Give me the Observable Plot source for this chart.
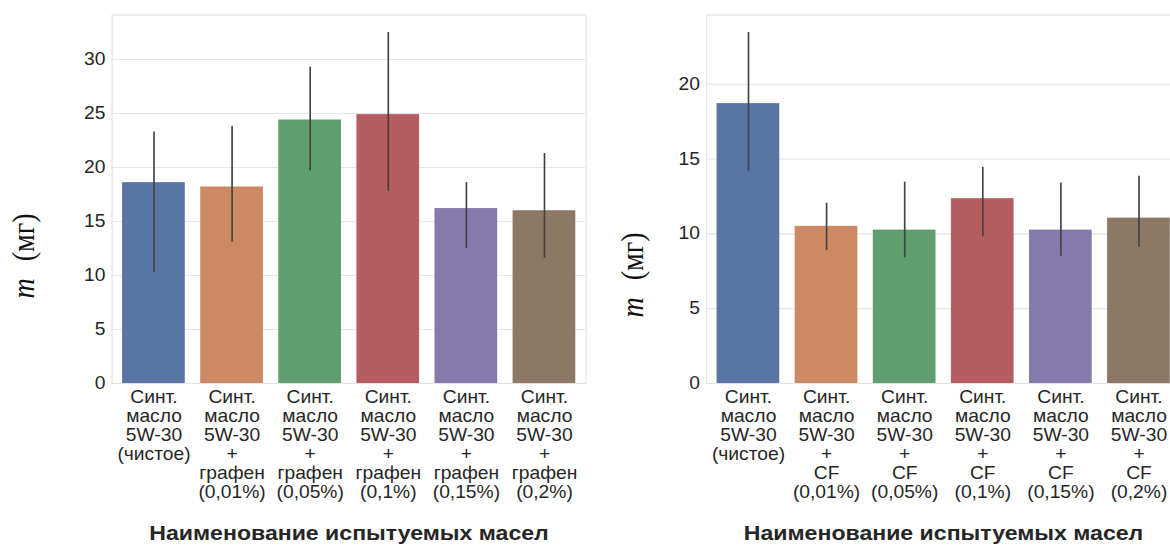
<!DOCTYPE html>
<html>
<head>
<meta charset="utf-8">
<script src="https://cdn.jsdelivr.net/npm/d3@7"></script>
<script src="https://cdn.jsdelivr.net/npm/@observablehq/plot@0.6"></script>
<style>
  html, body { margin: 0; padding: 0; background: #fff; }
  #fig { position: relative; width: 1170px; height: 545px; overflow: hidden; background: #fff; }
  #fig svg { position: absolute; top: 0; }
</style>
</head>
<body>
<div id="fig"></div>
<script>
// Oils tested: synthetic 5W-30 base and with graphene additive
const grapheneLabels = [
  "Синт.\nмасло\n5W-30\n(чистое)",
  "Синт.\nмасло\n5W-30\n+\nграфен\n(0,01%)",
  "Синт.\nмасло\n5W-30\n+\nграфен\n(0,05%)",
  "Синт.\nмасло\n5W-30\n+\nграфен\n(0,1%)",
  "Синт.\nмасло\n5W-30\n+\nграфен\n(0,15%)",
  "Синт.\nмасло\n5W-30\n+\nграфен\n(0,2%)"
];
const grapheneMeans = [18.6, 18.2, 24.4, 24.9, 16.2, 16.0];
const grapheneLow   = [10.3, 13.1, 19.7, 17.8, 12.5, 11.6];
const grapheneHigh  = [23.3, 23.8, 29.3, 32.5, 18.6, 21.3];

// Oils tested: synthetic 5W-30 base and with CF additive
const cfLabels = [
  "Синт.\nмасло\n5W-30\n(чистое)",
  "Синт.\nмасло\n5W-30\n+\nCF\n(0,01%)",
  "Синт.\nмасло\n5W-30\n+\nCF\n(0,05%)",
  "Синт.\nмасло\n5W-30\n+\nCF\n(0,1%)",
  "Синт.\nмасло\n5W-30\n+\nCF\n(0,15%)",
  "Синт.\nмасло\n5W-30\n+\nCF\n(0,2%)"
];
const cfMeans = [18.7, 10.5, 10.25, 12.35, 10.25, 11.05];
const cfLow   = [14.2, 8.9, 8.4, 9.8, 8.5, 9.1];
const cfHigh  = [23.45, 12.05, 13.45, 14.45, 13.4, 13.85];

const palette = ["#5975a4", "#cc8963", "#5f9e6e", "#b55d60", "#857aab", "#8d7866"];
const leftTicks = [0, 5, 10, 15, 20, 25, 30];
const rightTicks = [0, 5, 10, 15, 20];
const xTitle = "Наименование испытуемых масел";
const yVar = "m";
const yUnit = "(мг)";

const SX = 1.1;        // horizontal stretch applied to each panel
const H = 545;
const PANEL_W = 546;   // drawing width before the stretch

function panel({labels, means, lows, highs, ticks, marginLeft, marginRight, labelDx, varDy, unitDy}) {
  const rows = labels.map((label, i) => ({label, mean: means[i], low: lows[i], high: highs[i]}));
  const serif = "'Liberation Serif', 'Times New Roman', serif";
  const svg = Plot.plot({
    width: PANEL_W,
    height: H,
    marginTop: 14.5,
    marginBottom: 162,
    marginLeft,
    marginRight,
    style: {fontFamily: "'Liberation Sans', Arial, sans-serif", color: "#262626", background: "#fff", overflow: "visible"},
    x: {type: "band", domain: labels, paddingInner: 0.2, paddingOuter: 0.1, axis: null},
    y: {domain: [0, d3.max(highs) * 1.05], axis: null},
    color: {domain: labels, range: palette},
    marks: [
      Plot.gridY(ticks, {stroke: "#e6e6e6", strokeOpacity: 1, strokeWidth: 1.1}),
      Plot.frame({stroke: "#e3e3e3", strokeWidth: 1.1}),
      Plot.barY(rows, {x: "label", y: "mean", fill: "label"}),
      Plot.ruleX(rows, {x: "label", y1: "low", y2: "high", stroke: "#424242", strokeWidth: 1.5}),
      Plot.axisY(ticks, {tickSize: 0, tickPadding: 6, fontSize: 17.5, label: null}),
      Plot.axisX({tickSize: 0, tickPadding: 5.5, fontSize: 17.5, lineHeight: 1.09, label: null}),
      Plot.text([xTitle], {text: d => d, frameAnchor: "bottom", dy: 156, fontSize: 21, fontWeight: "bold", fill: "#262626"}),
      Plot.text([yVar], {text: d => d, frameAnchor: "left", dx: labelDx, dy: varDy, rotate: -90,
        textAnchor: "start", lineAnchor: "bottom", fontFamily: serif, fontStyle: "italic", fontSize: 28, fill: "#111"}),
      Plot.text([yUnit], {text: d => d, frameAnchor: "left", dx: labelDx, dy: unitDy, rotate: -90,
        textAnchor: "end", lineAnchor: "bottom", fontFamily: serif, fontSize: 28, fill: "#111"})
    ]
  });
  const w = PANEL_W * SX;
  svg.setAttribute("width", w);
  svg.setAttribute("preserveAspectRatio", "none");
  svg.style.width = w + "px";
  svg.style.height = H + "px";
  svg.style.maxWidth = "none";
  return svg;
}

const fig = document.getElementById("fig");

const left = panel({
  labels: grapheneLabels, means: grapheneMeans, lows: grapheneLow, highs: grapheneHigh,
  ticks: leftTicks, marginLeft: 101.36, marginRight: 13.73,
  labelDx: -71.4, varDy: 99.25, unitDy: 14.25
});
left.style.left = "0px";
fig.appendChild(left);

const right = panel({
  labels: cfLabels, means: cfMeans, lows: cfLow, highs: cfHigh,
  ticks: rightTicks, marginLeft: 96.36, marginRight: 18.73,
  labelDx: -58.2, varDy: 118.25, unitDy: 33.25
});
right.style.left = "600px";
fig.appendChild(right);
</script>
</body>
</html>
